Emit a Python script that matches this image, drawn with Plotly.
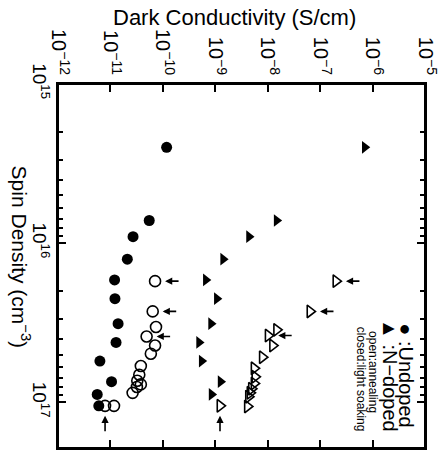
import numpy as np
import plotly.graph_objects as go

# undoped, light soaked (closed circles)
und_ls_spin = [2.5e15, 7.2e15, 9.1e15, 1.26e16, 1.7e16, 2.23e16, 3.2e16, 4.2e16, 5.5e16, 7.4e16, 8.9e16, 1.05e17]
und_ls_cond = [1.18e-10, 5.5e-11, 2.7e-11, 2.1e-11, 1.2e-11, 1.22e-11, 1.4e-11, 1.28e-11, 6.3e-12, 1.05e-11, 5.6e-12, 6.0e-12]

# undoped, annealed (open circles)
und_an_spin = [1.73e16, 2.68e16, 3.36e16, 3.85e16, 4.39e16, 4.94e16, 5.9e16, 6.7e16, 7.3e16, 7.7e16, 8.0e16, 8.7e16, 1.05e17, 1.05e17]
und_an_cond = [7.1e-11, 6.4e-11, 7.4e-11, 4.9e-11, 7.1e-11, 5.9e-11, 3.8e-11, 3.55e-11, 3.25e-11, 3.8e-11, 3.2e-11, 2.65e-11, 7.9e-12, 1.17e-11]

# N-doped, light soaked (closed triangles)
nd_ls_spin = [2.5e15, 7.2e15, 9.1e15, 1.26e16, 1.7e16, 2.23e16, 3.2e16, 4.2e16, 5.5e16, 7.4e16, 8.9e16]
nd_ls_cond = [7.1e-7, 1.48e-8, 4.4e-9, 1.41e-9, 6.6e-10, 1.07e-9, 8.3e-10, 4.9e-10, 5.5e-10, 1.26e-9, 8.5e-10]

# N-doped, annealed (open triangles)
nd_an_spin = [1.73e16, 2.68e16, 3.5e16, 3.8e16, 4.39e16, 5.2e16, 6.1e16, 6.9e16, 7.6e16, 8.2e16, 8.7e16, 9.2e16, 1.06e17, 1.05e17]
nd_an_cond = [2.0e-7, 6.4e-8, 1.48e-8, 1.02e-8, 1.24e-8, 7.9e-9, 5.5e-9, 5.7e-9, 5.5e-9, 4.9e-9, 4.6e-9, 4.3e-9, 4.1e-9, 1.23e-9]

# points marked with arrows: (series, index, direction)
arrows = [("und_an", 0, "left"), ("und_an", 1, "left"), ("und_an", 3, "left"), ("und_an", 12, "up"),
          ("nd_an", 0, "left"), ("nd_an", 1, "left"), ("nd_an", 3, "left"), ("nd_an", 13, "up")]

cond_ticks = [1e-12, 1e-11, 1e-10, 1e-9, 1e-8, 1e-7, 1e-6, 1e-5]
cond_labels = ["10<sup>−12</sup>", "10<sup>−11</sup>", "10<sup>−10</sup>", "10<sup>−9</sup>",
               "10<sup>−8</sup>", "10<sup>−7</sup>", "10<sup>−6</sup>", "10<sup>−5</sup>"]
spin_ticks = [1e15, 1e16, 1e17]
spin_labels = ["10<sup>15</sup>", "10<sup>16</sup>", "10<sup>17</sup>"]
spin_minor = [m * 10**e for e in (15, 16) for m in range(2, 10)] + [2e17]

FONT = "Liberation Sans, Arial, sans-serif"

fig = go.Figure()
fig.add_trace(go.Scatter(x=und_ls_cond, y=und_ls_spin, mode="markers",
                         marker=dict(symbol="circle", size=11, color="black")))
fig.add_trace(go.Scatter(x=und_an_cond, y=und_an_spin, mode="markers",
                         marker=dict(symbol="circle-open", size=11, color="black", line=dict(width=1.6))))
fig.add_trace(go.Scatter(x=nd_ls_cond, y=nd_ls_spin, mode="markers",
                         marker=dict(symbol="triangle-right", size=11, color="black")))
fig.add_trace(go.Scatter(x=nd_an_cond, y=nd_an_spin, mode="markers",
                         marker=dict(symbol="triangle-right-open", size=11, color="black", line=dict(width=1.6))))

series = {"und_an": (und_an_cond, und_an_spin), "nd_an": (nd_an_cond, nd_an_spin)}
for name, i, d in arrows:
    c, s = series[name]
    if d == "left":
        ax, ay = 25, 0
    else:
        ax, ay = 0, 27
    fig.add_annotation(x=np.log10(c[i]), y=np.log10(s[i]), xref="x", yref="y",
                       showarrow=True, arrowhead=2, arrowsize=0.9, arrowwidth=1.6,
                       arrowcolor="black", ax=ax, ay=ay, standoff=10, text="")

fig.add_annotation(text="Dark Conductivity (S/cm)", xref="paper", yref="paper",
                   x=0.48, y=1.184, xanchor="center", yanchor="middle", showarrow=False,
                   font=dict(size=22, family=FONT, color="black"))
fig.add_annotation(text="Spin Density (cm<sup>−3</sup>)", xref="paper", yref="paper",
                   x=-0.1, y=0.525, xanchor="center", yanchor="middle", showarrow=False,
                   textangle=90, font=dict(size=21, family=FONT, color="black"))

legend_items = [("● :Undoped", 0.948, 0.2, 20), ("▲ :N−doped", 0.905, 0.2, 20),
                ("open:annealing", 0.858, 0.209, 12), ("closed:light soaking", 0.826, 0.19, 12)]
for txt, lx, ly, fs in legend_items:
    fig.add_annotation(text=txt, xref="paper", yref="paper", x=lx, y=ly,
                       xanchor="center", yanchor="middle", showarrow=False,
                       textangle=90, font=dict(size=fs, family=FONT, color="black"))

# plot frame
fig.add_shape(type="rect", xref="paper", yref="paper", x0=0, y0=0, x1=1, y1=1,
              line=dict(color="black", width=2), layer="above")

fig.update_xaxes(type="log", range=[-12, -5], side="top", tickmode="array",
                 tickvals=cond_ticks, ticktext=cond_labels, tickangle=90, automargin=False,
                 ticks="inside", ticklen=8, tickwidth=2, tickcolor="black",
                 showline=True, linewidth=2, linecolor="black", mirror="ticks",
                 showgrid=False, zeroline=False,
                 tickfont=dict(size=20, family=FONT, color="black"))
fig.update_yaxes(type="log", range=[17.286, 15], tickmode="array",
                 tickvals=spin_ticks, ticktext=spin_labels, tickangle=90, automargin=False,
                 ticks="inside", ticklen=8, tickwidth=1.5, tickcolor="black",
                 minor=dict(tickmode="array", tickvals=spin_minor, ticks="inside",
                            ticklen=5, tickwidth=1.5, tickcolor="black", showgrid=False),
                 showline=True, linewidth=2, linecolor="black", mirror="ticks",
                 showgrid=False, zeroline=False,
                 tickfont=dict(size=19, family=FONT, color="black"))

fig.update_layout(template="none", width=445, height=450, margin=dict(l=58, r=20, t=84, b=2),
                  plot_bgcolor="white", paper_bgcolor="white", showlegend=False)

fig.write_html("out.html", config={"displayModeBar": False},
               post_script="document.body.style.margin='0';")
